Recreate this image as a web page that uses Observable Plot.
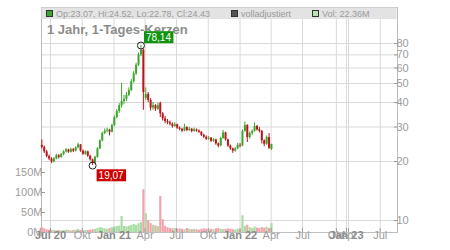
<!DOCTYPE html>
<html><head><meta charset="utf-8">
<script src="https://cdn.jsdelivr.net/npm/d3@7"></script>
<script src="https://cdn.jsdelivr.net/npm/@observablehq/plot@0.6"></script>
<style>
body{margin:0;background:#fff;}
#chart{position:relative;width:450px;height:250px;}
#chart svg{position:absolute;left:0;top:0;}
</style></head><body><div id="chart"></div>
<script>
// ---- data (weekly candles) ----
const firstCandle = "2020-06-06";
const opens  = [24.2,23.6,22.4,21.2,20.6,19.9,20.6,21.4,21.0,21.7,22.4,22.9,22.3,23.0,22.6,23.5,24.3,22.6,21.8,22.4,21.3,20.4,19.6,21.0,23.2,25.5,27.8,28.6,28.9,28.2,30.5,33.5,36.0,38.5,40.5,41.5,43.5,46.0,51.0,56.0,62.0,70.0,74.0,42.0,44.0,41.0,37.5,38.5,37.0,39.5,35.0,33.0,32.0,31.5,31.0,30.2,30.8,29.6,29.2,28.6,29.8,28.8,29.2,28.5,29.0,28.6,28.2,27.2,26.6,26.0,26.3,25.4,25.8,24.6,24.0,26.2,28.0,25.8,24.0,23.2,22.6,23.2,24.2,24.0,28.5,30.5,26.5,27.8,28.5,30.2,29.0,28.5,25.5,24.5,26.5,23.07];
const highs  = [25.8,24.0,22.8,21.6,20.9,21.0,21.8,21.7,22.0,22.7,23.3,23.1,23.4,23.3,23.8,24.8,24.4,22.9,22.7,22.6,21.5,20.6,21.3,23.5,25.8,28.2,29.3,29.6,29.2,31.0,34.2,36.8,39.5,50.0,43.5,45.0,47.5,52.5,57.5,63.5,71.5,78.14,75.0,47.5,45.0,41.8,40.0,39.0,39.8,40.2,35.5,34.0,32.8,32.2,31.5,31.6,31.0,30.0,29.5,31.0,30.1,29.9,29.5,29.6,29.3,29.0,28.4,27.6,27.0,26.8,26.5,26.2,26.0,24.9,26.6,28.8,28.2,26.0,24.3,23.4,23.6,24.8,24.7,29.0,31.8,30.8,28.3,29.0,31.4,30.6,29.8,28.8,25.8,27.0,27.8,24.52];
const lows   = [23.2,22.0,20.9,20.2,19.5,19.7,20.4,20.6,20.8,21.4,22.1,22.0,22.1,22.2,22.4,23.2,22.3,21.5,21.5,21.0,20.1,19.07,19.4,20.8,23.0,25.2,27.4,28.0,27.0,28.0,30.1,33.0,35.2,37.5,39.0,40.5,42.8,45.5,50.2,55.0,61.0,68.5,36.5,41.0,40.0,36.2,36.5,36.0,36.5,33.5,32.2,31.2,30.8,30.4,29.6,29.9,29.2,28.7,28.1,28.4,28.4,28.5,28.0,28.2,28.2,27.8,26.8,26.2,25.6,25.7,25.0,25.1,24.2,23.5,23.8,26.0,25.4,23.6,22.8,22.0,22.3,23.0,23.5,23.8,28.2,25.0,26.0,27.2,28.2,28.6,28.0,24.6,23.8,24.2,23.0,22.78];
const closes = [23.6,22.4,21.2,20.6,19.9,20.6,21.4,21.0,21.7,22.4,22.9,22.3,23.0,22.6,23.5,24.3,22.6,21.8,22.4,21.3,20.4,19.6,21.0,23.2,25.5,27.8,28.6,28.9,28.2,30.5,33.5,36.0,38.5,40.5,41.5,43.5,46.0,51.0,56.0,62.0,70.0,74.0,45.0,44.0,41.0,37.5,38.5,37.0,38.5,35.0,33.0,32.0,31.5,31.0,30.2,30.8,29.6,29.2,28.6,29.8,28.8,29.2,28.5,29.0,28.6,28.2,27.2,26.6,26.0,26.3,25.4,25.8,24.6,24.0,26.2,28.0,25.8,24.0,23.2,22.6,23.2,24.2,24.0,28.5,30.5,26.5,27.8,28.5,30.2,29.0,28.5,25.5,24.5,26.5,23.4,24.43];
const volumeM = [12,9,7,6,5, 5,4,5,4,5,6,5,4,5,6,8,5,4,5,5,6, 7,8,10,12,11,9,8,10, 12,14,15,16, 40, 15,14,16,18,20,18,22,25, 107, 47, 30,22,18,16,15, 90, 32, 15,12,10,9,10,8,9,8,7,10, 8,7,8,7,6,8,9,8,7,8,7,9,10,8,7,8,9,8,7,6,8,7, 42, 15,18,12,10,14,11,10,12,11,13,10, 22.36];
const priceTicks = [10,20,30,40,50,60,70,80];
const volumeTicks = [0,50,100,150];
const xTickDates  = ["2020-07-01","2020-10-01","2021-01-01","2021-04-01","2021-07-01","2021-10-01","2022-01-01","2022-04-01","2022-07-01","2022-10-07","2022-11-05","2022-11-11","2023-02-11"];
const xTickLabels = ["Jul 20","Okt","Jan 21","Apr","Jul","Okt","Jan 22","Apr","Jul","Okt","Jan 23","Apr","Jul"];
const xDomain = ["2020-06-05","2023-04-02"];
const titleText = "1 Jahr, 1-Tages-Kerzen";

// ---- styles ----
const GREEN = "#3ca52c", RED = "#b9161b", VGREEN = "#aadda3", VRED = "#f2a4ac";
const FONT = "'Liberation Sans', Arial, sans-serif";

const rows = opens.map((o, i) => ({
  date: d3.utcDay.offset(new Date(firstCandle), 7 * i),
  open: o, high: highs[i], low: lows[i], close: closes[i],
  vol: volumeM[i] * 1e6, up: closes[i] >= o
}));
const iMax = d3.maxIndex(highs), iMin = d3.minIndex(lows);
const fmt = v => d3.format(".2f")(v).replace(".", ",");
const peak = [{date: rows[iMax].date, value: highs[iMax], label: fmt(highs[iMax])}];
const trough = [{date: rows[iMin].date, value: lows[iMin], label: fmt(lows[iMin])}];
const xTicks = xTickDates.map(d => new Date(d));
const labelMap = new Map(xTicks.map((d, i) => [+d, xTickLabels[i]]));
const dom = xDomain.map(d => new Date(d));

const common = {
  width: 450, height: 250, marginTop: 7, marginRight: 53, marginBottom: 18, marginLeft: 41,
  style: {background: "transparent", fontFamily: FONT, fontSize: "11px", color: "#9c9c9c", overflow: "visible"}
};

const volPlot = Plot.plot({
  ...common,
  x: {type: "utc", domain: dom, axis: null},
  y: {domain: [0, 562.5e6], axis: "left", ticks: volumeTicks.map(v => v * 1e6), tickFormat: d => (d / 1e6) + "M", tickSize: -4, tickPadding: 3, label: null},
  marks: [
    Plot.ruleX(rows.filter(d => d.up), {x: "date", y1: 0, y2: "vol", stroke: VGREEN, strokeWidth: 2.2}),
    Plot.ruleX(rows.filter(d => !d.up), {x: "date", y1: 0, y2: "vol", stroke: VRED, strokeWidth: 2.2})
  ]
});

const pricePlot = Plot.plot({
  ...common,
  x: {type: "utc", domain: dom, ticks: xTicks, tickFormat: d => labelMap.get(+d), tickSize: -4, tickPadding: 3, label: null},
  y: {type: "log", domain: [8.69, 122.1], axis: "right", ticks: priceTicks, tickFormat: d => String(d), tickSize: -4, tickPadding: 3, label: null},
  marks: [
    Plot.ruleX(rows.filter(d => d.up), {x: "date", y1: "low", y2: "high", stroke: GREEN, strokeWidth: 1}),
    Plot.ruleX(rows.filter(d => !d.up), {x: "date", y1: "low", y2: "high", stroke: RED, strokeWidth: 1}),
    Plot.ruleX(rows.filter(d => d.up), {x: "date", y1: "open", y2: "close", stroke: GREEN, strokeWidth: 2}),
    Plot.ruleX(rows.filter(d => !d.up), {x: "date", y1: "open", y2: "close", stroke: RED, strokeWidth: 2}),
    Plot.dot(peak.concat(trough), {x: "date", y: "value", r: 3.5, stroke: "#222", fill: "none", strokeWidth: 1}),
    Plot.text(peak, {x: "date", y: "value", text: "label", dx: 5, dy: -8, textAnchor: "start", fill: "white", fontSize: 10}),
    Plot.text(trough, {x: "date", y: "value", text: "label", dx: 6, dy: 10, textAnchor: "start", fill: "white", fontSize: 10})
  ]
});

// grid layer underneath everything
const gridPlot = Plot.plot({
  ...common,
  x: {type: "utc", domain: dom, axis: null},
  y: {type: "log", domain: [8.69, 122.1], axis: null},
  marks: [
    Plot.ruleX(xTicks, {stroke: "#dadada"}),
    Plot.ruleY(priceTicks, {stroke: "#dadada"}),
    Plot.frame({stroke: "#bdbdbd"})
  ]
});

const chart = document.getElementById("chart");
chart.appendChild(gridPlot);
chart.appendChild(volPlot);
chart.appendChild(pricePlot);

// header band, legend and title (drawn below the value labels)
const overlay = d3.select(gridPlot).append("g").attr("text-anchor", "start");
overlay.append("rect").attr("x", 41.5).attr("y", 7.5).attr("width", 355).attr("height", 11.5).attr("fill", "#e3e3e3");
const last = rows.length - 1;
const legendItems = [
  {x: 46, fill: GREEN, text: `Op:${opens[last].toFixed(2)}, Hi:${highs[last].toFixed(2)}, Lo:${lows[last].toFixed(2)}, Cl:${closes[last].toFixed(2)}`},
  {x: 231, fill: "#555", text: "volladjustiert"},
  {x: 312, fill: "#b9e3b2", text: `Vol: ${volumeM[last].toFixed(2)}M`}
];
legendItems.forEach(it => {
  overlay.append("rect").attr("x", it.x + 0.5).attr("y", 10.5).attr("width", 6).attr("height", 6).attr("fill", it.fill).attr("stroke", "#333").attr("stroke-width", 1);
  overlay.append("text").attr("x", it.x + 10).attr("y", 17).attr("font-size", 9).attr("font-family", FONT).attr("fill", "#9a9a9a").text(it.text);
});
overlay.append("text").attr("x", 47).attr("y", 34).attr("font-size", 13).attr("font-weight", "bold").attr("font-family", FONT).attr("fill", "#8c8c8c").text(titleText);

// label boxes behind extreme values
[[peak[0].label, "#119411"], [trough[0].label, "#cc0000"]].forEach(([label, col]) => {
  pricePlot.querySelectorAll("text").forEach(t => {
    if (t.textContent !== label) return;
    const b = t.getBBox();
    const r = document.createElementNS("http://www.w3.org/2000/svg", "rect");
    r.setAttribute("x", b.x - 2); r.setAttribute("y", b.y - 0.5);
    r.setAttribute("width", b.width + 4); r.setAttribute("height", b.height + 1);
    r.setAttribute("fill", col);
    if (t.getAttribute("transform")) r.setAttribute("transform", t.getAttribute("transform"));
    t.parentNode.insertBefore(r, t);
  });
});

// bold year labels on x axis
const yearLabels = new Set(xTickLabels.filter(s => / \d\d$/.test(s)));
pricePlot.querySelectorAll("text").forEach(t => {
  if (yearLabels.has(t.textContent)) { t.setAttribute("font-weight", "bold"); t.setAttribute("fill", "#8a8a8a"); }
});
</script></body></html>
